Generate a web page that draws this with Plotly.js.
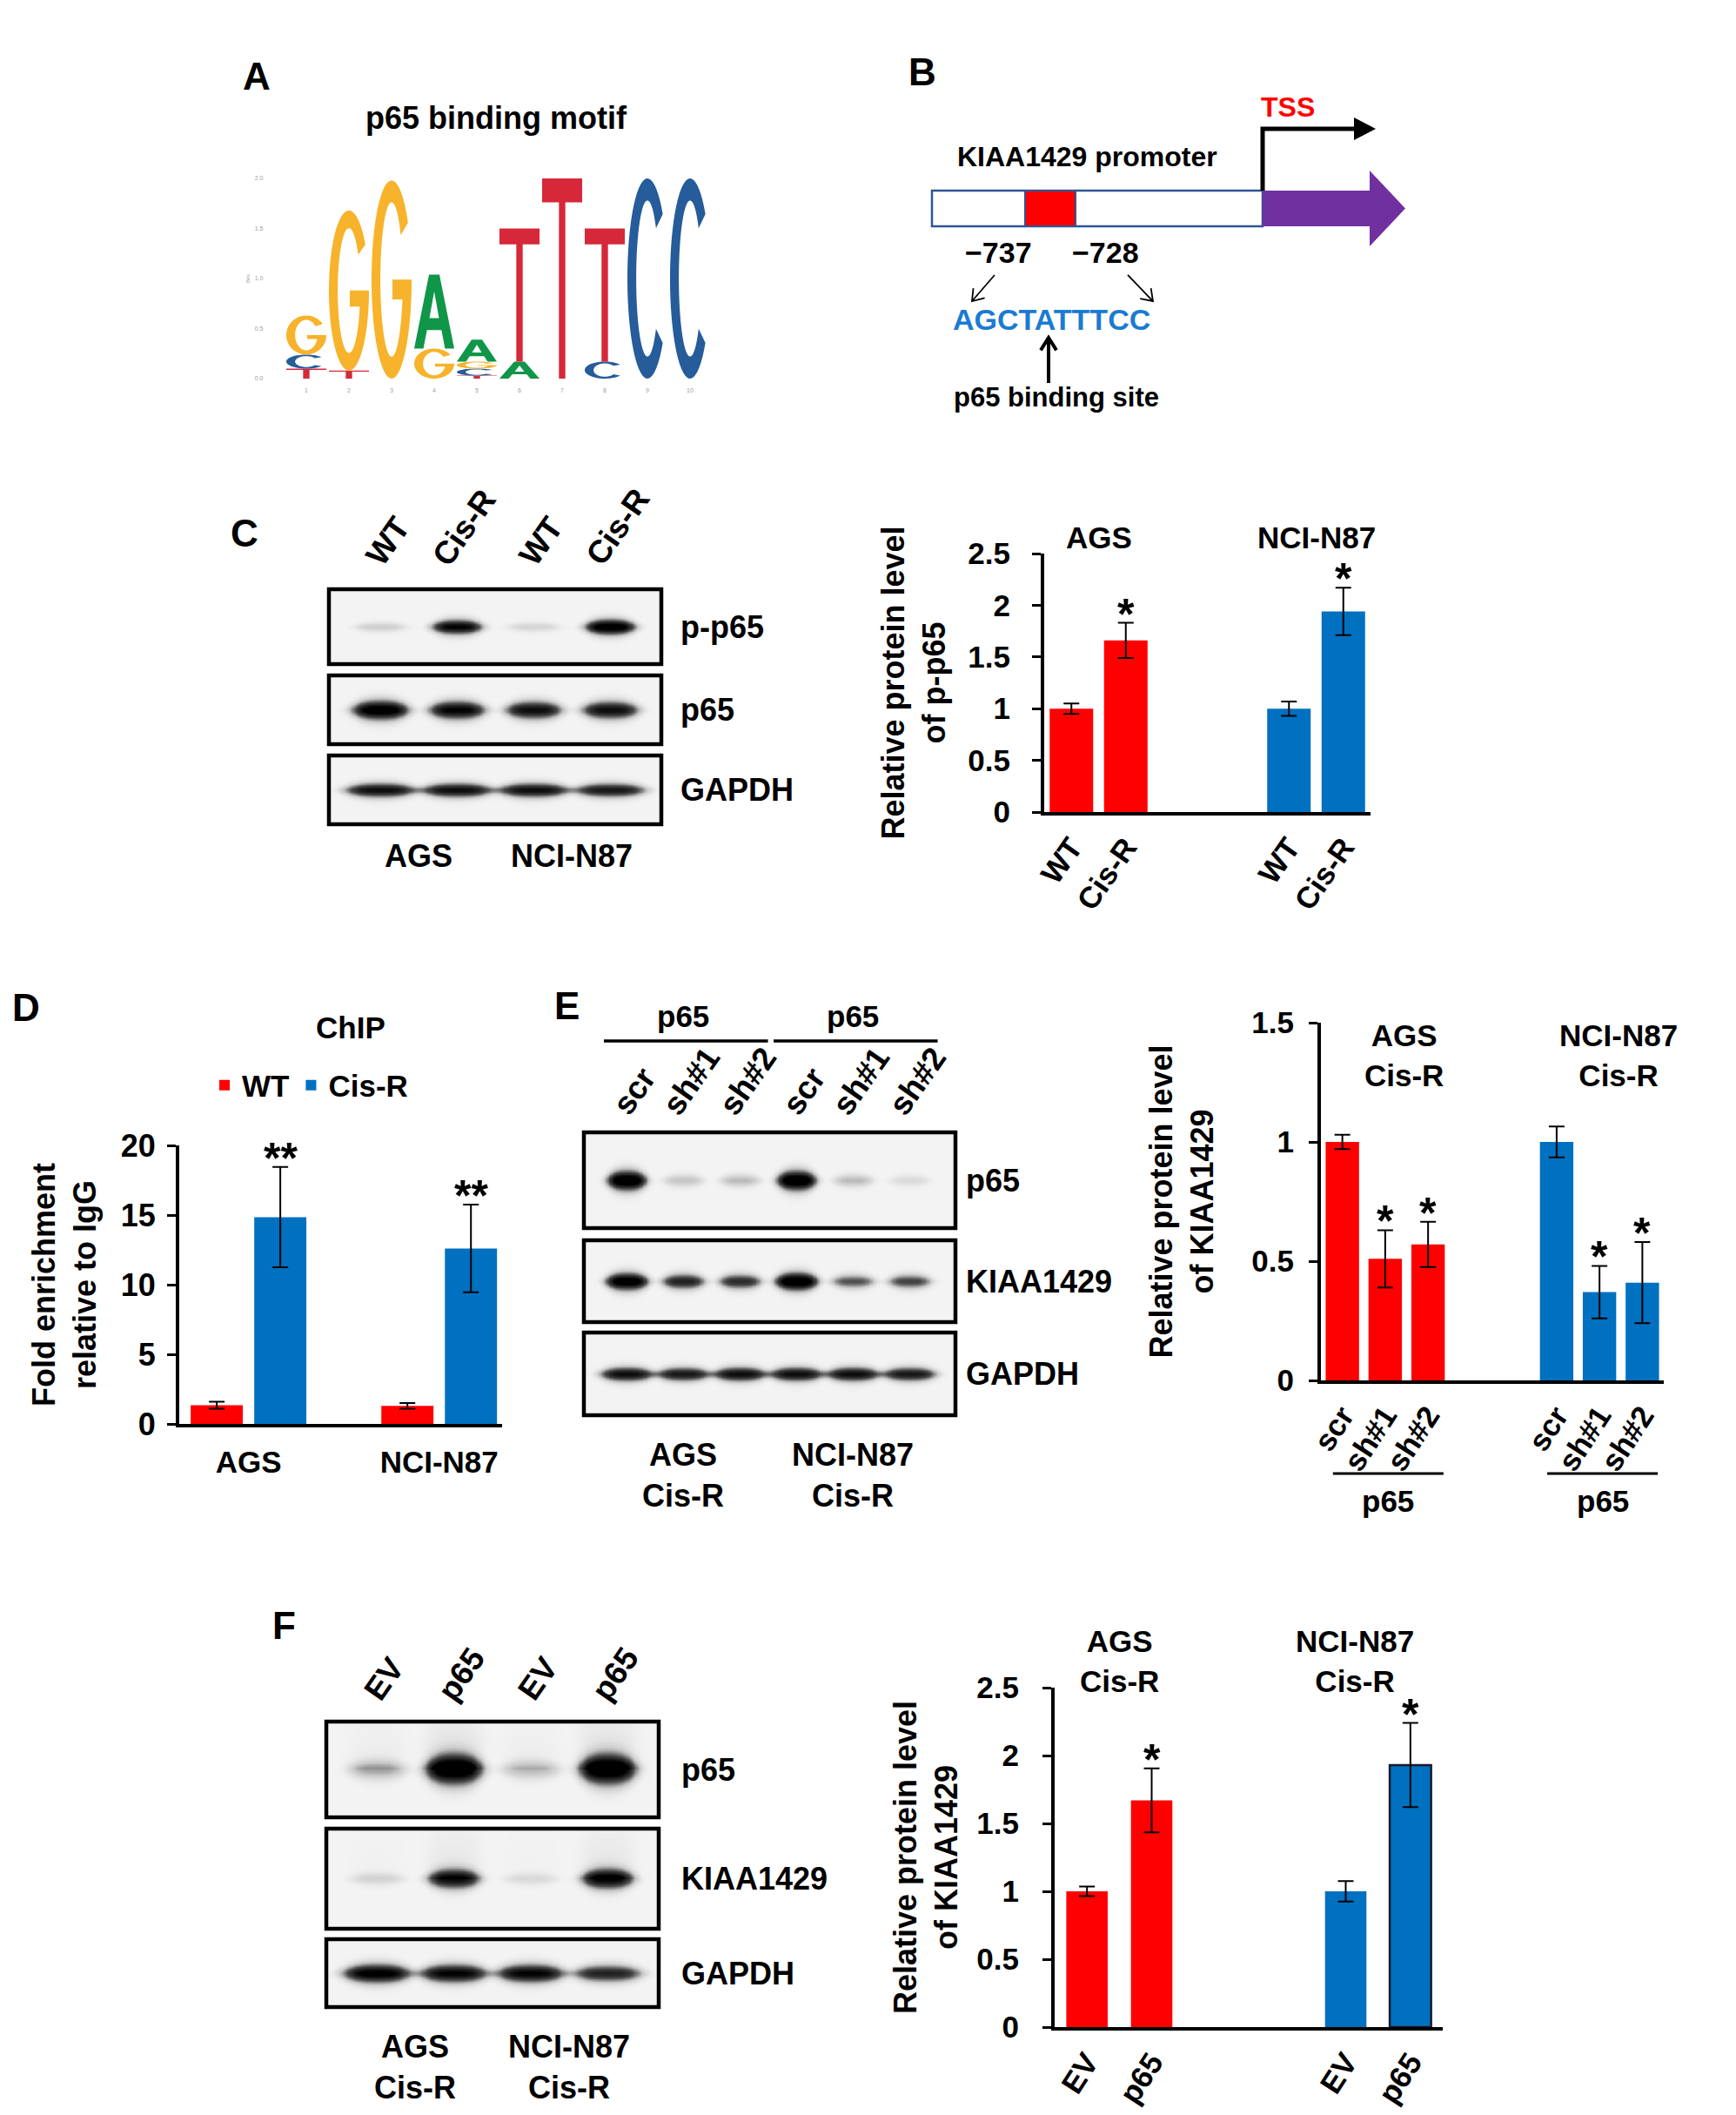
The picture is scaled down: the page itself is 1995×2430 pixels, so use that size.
<!DOCTYPE html>
<html><head><meta charset="utf-8">
<script src="https://cdn.plot.ly/plotly-3.0.1.min.js"></script>
<style>html,body{margin:0;padding:0;background:#fff}</style>
</head><body>
<div id="chart" style="width:1995px;height:2430px"></div>
<script>
// ================= DATA =================
// A: p65 binding motif (information content, bits) per position
const logoPos   = [1,2,3,4,5,6,7,8,9,10];
const logoBitsA = [0.00,0.00,0.00,0.74,0.22,0.17,0.00,0.00,0.00,0.00];
const logoBitsC = [0.14,0.00,0.00,0.00,0.07,0.00,0.00,0.17,2.00,2.00];
const logoBitsG = [0.39,1.60,1.98,0.30,0.07,0.00,0.00,0.00,0.00,0.00];
const logoBitsT = [0.10,0.08,0.00,0.00,0.03,1.33,2.00,1.33,0.00,0.00];

// C: relative protein level of p-p65
const cGroups     = ["AGS","NCI-N87"];
const cConditions = ["WT","Cis-R"];
const cMean = [[1.00,1.66],[1.00,1.94]];
const cErr  = [[0.05,0.17],[0.07,0.23]];
const cSig  = [["","*"],["","*"]];

// D: ChIP fold enrichment relative to IgG
const dGroups = ["AGS","NCI-N87"];
const dSeries = ["WT","Cis-R"];
const dWT     = [1.35,1.30];
const dWTErr  = [0.25,0.20];
const dCisR   = [14.85,12.60];
const dCisErr = [3.60,3.15];
const dSig    = ["**","**"];

// E: relative protein level of KIAA1429 after p65 knockdown
const eGroups     = ["AGS<br>Cis-R","NCI-N87<br>Cis-R"];
const eConditions = ["scr","sh#1","sh#2"];
const eMean = [[1.00,0.51,0.57],[1.00,0.37,0.41]];
const eErr  = [[0.03,0.12,0.095],[0.065,0.11,0.17]];
const eSig  = [["","*","*"],["","*","*"]];

// F: relative protein level of KIAA1429 after p65 overexpression
const fGroups     = ["AGS<br>Cis-R","NCI-N87<br>Cis-R"];
const fConditions = ["EV","p65"];
const fMean = [[1.00,1.67],[1.00,1.93]];
const fErr  = [[0.035,0.235],[0.075,0.31]];
const fSig  = [["","*"],["","*"]];

// Western blots: band darkness (0..1) per row x lane
const blotCLanes = ["WT","Cis-R","WT","Cis-R"];
const blotCRows  = ["p-p65","p65","GAPDH"];
const blotCBands = [[0.18,0.85,0.15,0.95],[0.95,0.85,0.80,0.80],[0.80,0.80,0.80,0.75]];
const blotCCells = ["AGS","NCI-N87"];

const blotELanes = ["scr","sh#1","sh#2","scr","sh#1","sh#2"];
const blotERows  = ["p65","KIAA1429","GAPDH"];
const blotEBands = [[1.00,0.22,0.25,1.00,0.25,0.12],[0.95,0.70,0.65,1.00,0.50,0.55],[0.80,0.75,0.80,0.80,0.80,0.75]];
const blotECells = ["AGS<br>Cis-R","NCI-N87<br>Cis-R"];
const blotETop   = ["p65","p65"];

const blotFLanes = ["EV","p65","EV","p65"];
const blotFRows  = ["p65","KIAA1429","GAPDH"];
const blotFBands = [[0.30,1.00,0.25,1.00],[0.15,0.80,0.12,0.85],[0.90,0.85,0.85,0.70]];
const blotFCells = ["AGS<br>Cis-R","NCI-N87<br>Cis-R"];

// ================= STYLE / LAYOUT HELPERS =================
const W = 1995, H = 2430;
const PX = x => x / W, PY = y => 1 - y / H;
const FAM = 'Liberation Sans, Arial, Helvetica, sans-serif';
const fnt = (size, color = '#000', weight = 'bold') => ({family: FAM, size, color, weight});
const RED = '#ff0000', BLUE = '#0070c0';
const GROUP_COLORS = [RED, BLUE];
const STAR_SIZE = 50, STAR_SHIFT = -20;

const traces = [], shapes = [], ann = [];
const layout = {
  width: W, height: H, margin: {l:0, r:0, t:0, b:0},
  paper_bgcolor: '#fff', plot_bgcolor: 'rgba(0,0,0,0)',
  showlegend: true, shapes, annotations: ann,
  font: {family: FAM}
};
function text(t, x, y, size, opts = {}) {
  ann.push(Object.assign({text: t, x: PX(x), y: PY(y), xref: 'paper', yref: 'paper',
    showarrow: false, font: fnt(size, opts.color || '#000', opts.weight || 'bold'),
    xanchor: 'center', yanchor: 'middle'}, opts.extra || {}));
}

// ================= PANEL LETTERS =================
[["A",295,88],["B",1060,82],["C",281,613],["D",30,1157],["E",651,1155],["F",326,1867]]
  .forEach(([t,x,y]) => text(t, x, y, 44));

// ================= A: sequence logo =================
function ell(cx, cy, rx, ry, a0, a1, n) {
  const p = [];
  for (let i = 0; i <= n; i++) {
    const a = (a0 + (a1 - a0) * i / n) * Math.PI / 180;
    p.push([cx + rx * Math.cos(a), cy + ry * Math.sin(a)]);
  }
  return p;
}
const GLYPHS = {
  T: () => [[[0,1],[1,1],[1,0.88],[0.58,0.88],[0.58,0],[0.42,0],[0.42,0.88],[0,0.88]]],
  A: () => [[[0,0],[0.37,1],[0.63,1],[1,0],[0.77,0],[0.68,0.25],[0.32,0.25],[0.23,0]],
            [[0.38,0.41],[0.5,0.77],[0.62,0.41]]],
  C: () => [ell(0.5,0.5,0.5,0.5,40,320,48).concat(ell(0.5,0.5,0.28,0.39,320,40,48))],
  G: () => {
    const a = -Math.asin(0.1/0.39) * 180 / Math.PI + 360;
    return [ell(0.5,0.5,0.5,0.5,35,360,48)
      .concat([[0.52,0.5],[0.52,0.40]])
      .concat(ell(0.5,0.5,0.28,0.39,a,35,48))];
  }
};
const LETTER_COLORS = {A:'#109648', C:'#255c99', G:'#f7b32b', T:'#d62839'};
const logoBits = {A: logoBitsA, C: logoBitsC, G: logoBitsG, T: logoBitsT};
function glyphPath(L, pos, y0, h) {
  const wid = 0.94;
  return GLYPHS[L]().map(poly => 'M' + poly.map(([u,v]) =>
    `${(pos - wid/2 + wid*u).toFixed(4)},${(y0 + h*v).toFixed(4)}`).join('L') + 'Z').join(' ');
}
logoPos.forEach((p, i) => {
  const stack = ['A','C','G','T'].map(L => ({L, h: logoBits[L][i]}))
    .filter(o => o.h > 0).sort((a, b) => a.h - b.h);
  let y0 = 0;
  stack.forEach(o => {
    shapes.push({type:'path', xref:'x', yref:'y', path: glyphPath(o.L, p, y0, o.h),
      fillcolor: LETTER_COLORS[o.L], line:{width:0}, fillrule:'evenodd', layer:'above'});
    y0 += o.h;
  });
});
traces.push({type:'scatter', x: logoPos, y: logoPos.map(() => 0), mode:'none',
  xaxis:'x', yaxis:'y', showlegend:false, hoverinfo:'skip'});
layout.xaxis = {domain:[PX(327.5), PX(817.5)], anchor:'y', range:[0.5,10.5],
  tickvals: logoPos, tickfont: fnt(7,'#a0a0a0','normal'), ticks:'', showline:false,
  showgrid:false, zeroline:false, ticklabelstandoff: 8};
layout.yaxis = {domain:[PY(435), PY(205)], anchor:'x', range:[0,2],
  tickvals:[0,0.5,1,1.5,2], ticktext:['0.0','0.5','1.0','1.5','2.0'],
  tickfont: fnt(7,'#a0a0a0','normal'), ticks:'', showline:false, showgrid:false,
  zeroline:false, ticklabelstandoff: 24,
  title:{text:'Bits', font: fnt(6,'#a0a0a0','normal'), standoff: 4}};
text("p65 binding motif", 570, 135, 36);

// ================= B: promoter diagram =================
const pp = (pts) => 'M' + pts.map(([x,y]) => `${PX(x).toFixed(5)},${PY(y).toFixed(5)}`).join('L');
shapes.push({type:'rect', xref:'paper', yref:'paper', x0:PX(1071), x1:PX(1451), y0:PY(260), y1:PY(219),
  line:{color:'#2f5597', width:2.5}, fillcolor:'#fff'});
shapes.push({type:'rect', xref:'paper', yref:'paper', x0:PX(1178), x1:PX(1236), y0:PY(260), y1:PY(219),
  line:{color:'#2f5597', width:2}, fillcolor:'#ff0000'});
shapes.push({type:'path', xref:'paper', yref:'paper',
  path: pp([[1451,219],[1574,219],[1574,196],[1615,239.5],[1574,283],[1574,260],[1451,260]]) + 'Z',
  fillcolor:'#7030a0', line:{width:0}});
shapes.push({type:'path', xref:'paper', yref:'paper', path: pp([[1451,219],[1451,148],[1562,148]]),
  line:{color:'#000', width:5}});
shapes.push({type:'path', xref:'paper', yref:'paper', path: pp([[1556,135],[1581,148],[1556,161]]) + 'Z',
  fillcolor:'#000', line:{width:0}});
function arrow(x1, y1, x2, y2, len, angDeg, w) {
  const a = Math.atan2(y2 - y1, x2 - x1), ha = angDeg * Math.PI / 180;
  const h1 = [x2 + len*Math.cos(a + Math.PI - ha), y2 + len*Math.sin(a + Math.PI - ha)];
  const h2 = [x2 + len*Math.cos(a + Math.PI + ha), y2 + len*Math.sin(a + Math.PI + ha)];
  shapes.push({type:'path', xref:'paper', yref:'paper',
    path: pp([[x1,y1],[x2,y2]]) + ' ' + pp([h1,[x2,y2],h2]), line:{color:'#000', width:w}});
}
arrow(1143, 316, 1117, 346, 15, 35, 1.8);
arrow(1296, 316, 1325, 346, 15, 35, 1.8);
arrow(1205, 440, 1205, 388, 17, 32, 4);
text("TSS", 1480, 123, 32, {color:'#ff0000'});
text("KIAA1429 promoter", 1249, 180, 32);
text("\u2212737", 1147, 290, 34);
text("\u2212728", 1270, 290, 34);
text("AGCTATTTCC", 1208, 367, 34, {color:'#1b7bd2'});
text("p65 binding site", 1214, 457, 31);

// ================= BAR CHART BUILDER =================
function positions(nGroups, nPer, gap) {
  const out = [];
  for (let g = 0; g < nGroups; g++) { out.push([]); for (let i = 0; i < nPer; i++) out[g].push(g*(nPer+gap) + i); }
  return out;
}
const ERR = (arr) => ({type:'data', array: arr, visible:true, color:'#000', thickness:2, width:9});
function barAxes(n, spec) {
  layout['xaxis' + n] = {domain:[PX(spec.x0), PX(spec.x1)], anchor:'y' + n, range: spec.xr,
    tickvals: spec.tickvals, ticktext: spec.ticktext, tickangle: spec.tickangle,
    tickfont: fnt(spec.tf || 35), ticks:'', showline:true, linecolor:'#000', linewidth:4,
    showgrid:false, zeroline:false, ticklabelstandoff: spec.xstand || 2};
  layout['yaxis' + n] = {domain:[PY(spec.y1), PY(spec.y0)], anchor:'x' + n, range: spec.yr,
    dtick: spec.dtick, tick0: 0, tickfont: fnt(spec.tf || 35), ticks:'outside', ticklen:10,
    tickwidth:3, tickcolor:'#000', showline:true, linecolor:'#000', linewidth:4,
    showgrid:false, zeroline:false, ticklabelstandoff: spec.ystand,
    title:{text: spec.title, font: fnt(36), standoff: spec.tstand}};
}
function groupedBars(n, means, errs, sigs, pos, conds, barW, extraLine) {
  means.forEach((m, g) => {
    const t = {type:'bar', x: pos[g], y: m, error_y: ERR(errs[g]), width: barW,
      marker:{color: GROUP_COLORS[g]}, xaxis:'x' + n, yaxis:'y' + n, showlegend:false, hoverinfo:'skip'};
    if (extraLine && extraLine[g]) t.marker.line = extraLine[g];
    traces.push(t);
    m.forEach((v, i) => {
      if (sigs[g][i]) ann.push({text: sigs[g][i], x: pos[g][i], y: v + errs[g][i], xref:'x' + n, yref:'y' + n,
        showarrow:false, font: fnt(STAR_SIZE), yanchor:'bottom', yshift: STAR_SHIFT});
    });
  });
}

// ================= C: p-p65 bar chart =================
const cPos = positions(cGroups.length, cConditions.length, 2);
groupedBars(2, cMean, cErr, cSig, cPos, cConditions, 0.8);
barAxes(2, {x0:1200, x1:1575, y0:636, y1:933, xr:[-0.5,5.5], yr:[0,2.5], dtick:0.5,
  tickvals: cPos.flat(), ticktext: cPos.flat().map((_, k) => cConditions[k % cConditions.length]),
  tickangle:-55, ystand:18, tstand:16, title:'Relative protein level<br>of p-p65'});
cGroups.forEach((g, gi) => ann.push({text: g, x: (cPos[gi][0] + cPos[gi][cPos[gi].length-1]) / 2,
  y: PY(617), xref:'x2', yref:'paper', showarrow:false, font: fnt(35), yanchor:'middle'}));

// ================= D: ChIP bar chart =================
const dPos = positions(dGroups.length, dSeries.length, 1);
traces.push({type:'bar', name: dSeries[0], x: dPos.map(p => p[0]), y: dWT, error_y: ERR(dWTErr),
  width:0.82, marker:{color: RED}, xaxis:'x3', yaxis:'y3', hoverinfo:'skip', legend:'legend'});
traces.push({type:'bar', name: dSeries[1], x: dPos.map(p => p[1]), y: dCisR, error_y: ERR(dCisErr),
  width:0.82, marker:{color: BLUE}, xaxis:'x3', yaxis:'y3', hoverinfo:'skip', legend:'legend'});
dSig.forEach((s, g) => ann.push({text: s, x: dPos[g][1], y: dCisR[g] + dCisErr[g], xref:'x3', yref:'y3',
  showarrow:false, font: fnt(STAR_SIZE), yanchor:'bottom', yshift: STAR_SHIFT}));
barAxes(3, {x0:206, x1:577, y0:1316, y1:1636, xr:[-0.59,4.49], yr:[0,20], dtick:5,
  tickvals: dPos.map(p => (p[0] + p[1]) / 2), ticktext: dGroups, tickangle:0, tf:35, xstand:10,
  ystand:6, tstand:18, title:'Fold enrichment<br>relative to IgG'});
layout.yaxis3.tickfont = fnt(36);
layout.legend = {x: PX(238), y: PY(1247), xanchor:'left', yanchor:'middle', orientation:'h',
  font: fnt(35), bgcolor:'rgba(0,0,0,0)', itemwidth:30, traceorder:'normal', tracegroupgap:0};
text("ChIP", 403, 1180, 35);

// ================= E: knockdown bar chart =================
const ePos = positions(eGroups.length, eConditions.length, 2);
groupedBars(4, eMean, eErr, eSig, ePos, eConditions, 0.78);
barAxes(4, {x0:1518, x1:1912, y0:1175, y1:1586, xr:[-0.5,7.5], yr:[0,1.5], dtick:0.5,
  tickvals: ePos.flat(), ticktext: ePos.flat().map((_, k) => eConditions[k % eConditions.length]),
  tickangle:-57, ystand:10, tstand:34, title:'Relative protein level<br>of KIAA1429'});
eGroups.forEach((g, gi) => {
  const p = ePos[gi], mid = (p[0] + p[p.length-1]) / 2;
  ann.push({text: g, x: mid, y: PY(1213), xref:'x4', yref:'paper', showarrow:false, font: fnt(35),
    yanchor:'middle', xshift: 22});
  shapes.push({type:'line', xref:'x4', yref:'paper', x0: p[0] - 0.22, x1: p[p.length-1] + 0.36,
    y0: PY(1693), y1: PY(1693), line:{color:'#000', width:3}});
  ann.push({text:'p65', x: mid + 0.07, y: PY(1724), xref:'x4', yref:'paper', showarrow:false,
    font: fnt(35), yanchor:'middle'});
});

// ================= F: overexpression bar chart =================
const fPos = positions(fGroups.length, fConditions.length, 2);
groupedBars(5, fMean, fErr, fSig, fPos, fConditions, 0.64,
  [null, {color:['rgba(0,0,0,0)','#1a1a2a'], width:[0,2.5]}]);
barAxes(5, {x0:1212, x1:1658, y0:1939, y1:2329, xr:[-0.5,5.5], yr:[0,2.5], dtick:0.5,
  tickvals: fPos.flat(), ticktext: fPos.flat().map((_, k) => fConditions[k % fConditions.length]),
  tickangle:-57, ystand:20, tstand:12, title:'Relative protein level<br>of KIAA1429'});
fGroups.forEach((g, gi) => ann.push({text: g, x: (fPos[gi][0] + fPos[gi][fPos[gi].length-1]) / 2,
  y: PY(1908), xref:'x5', yref:'paper', showarrow:false, font: fnt(35), yanchor:'middle',
  xshift: gi === 1 ? -27 : 0}));

// ================= WESTERN BLOTS =================
const BLOTS = [
  {ax:6, lanes: blotCLanes, rows: blotCRows, bands: blotCBands, cells: blotCCells,
   x0:378, x1:760, xr:[-0.67,3.67], strips:[[677,763],[776,855],[868,947]],
   bandStyle:[{hw:0.33,sig:8},{hw:0.37,sig:10},{hw:0.46,sig:8}],
   labelX:780, laneBottom:660, cellY:983, font:36},
  {ax:7, lanes: blotELanes, rows: blotERows, bands: blotEBands, cells: blotECells,
   x0:671, x1:1098, xr:[-0.754,5.815], strips:[[1301,1411],[1425,1519],[1531,1626]],
   bandStyle:[{hw:0.35,sig:10},{hw:0.38,sig:9},{hw:0.47,sig:8}],
   labelX:1108, laneBottom:1291, cellY:1695, font:36},
  {ax:8, lanes: blotFLanes, rows: blotFRows, bands: blotFBands, cells: blotFCells,
   x0:375, x1:757, xr:[-0.657,3.67], strips:[[1978,2088],[2101,2216],[2228,2306]],
   bandStyle:[{hw:0.37,sig:15,smear:0.16},{hw:0.34,sig:11,smear:0.12},{hw:0.44,sig:10}],
   labelX:781, laneBottom:1964, cellY:2375, font:36}
];
const BLOT_SCALE = [[0,'#f3f3f3'],[0.25,'#c8c8c8'],[0.6,'#4a4a4a'],[1,'#000000']];
BLOTS.forEach(b => {
  const n = b.ax, xs = [];
  for (let x = b.xr[0]; x <= b.xr[1] + 1e-9; x += 0.025) xs.push(+x.toFixed(4));
  b.strips.forEach(([yt, yb], si) => {
    const yc = (yt + yb) / 2, st = b.bandStyle[si], ys = [];
    for (let y = yt + 3; y <= yb - 3; y += 1.5) ys.push(y);
    const z = ys.map(y => xs.map(x => {
      let v = 0;
      b.bands[si].forEach((I, li) => {
        const dx = (x - li) / st.hw;
        const fx = Math.exp(-Math.pow(Math.abs(dx), 4));
        const s = st.sig * (0.55 + 0.6 * I) * Math.max(0.35, 1 - 0.35 * dx * dx);
        const dy = (y - yc) / s;
        v += I * fx * Math.exp(-dy * dy);
        if (st.smear && y < yc) v += I * st.smear * fx * Math.exp(-(yc - y) / 40);
      });
      return Math.min(v, 1);
    }));
    traces.push({type:'heatmap', x: xs, y: ys, z, xaxis:'x' + n, yaxis:'y' + n, zmin:0, zmax:0.85,
      zsmooth:'best', colorscale: BLOT_SCALE, showscale:false, hoverinfo:'skip'});
    shapes.push({type:'rect', xref:'paper', yref:'paper', x0: PX(b.x0), x1: PX(b.x1),
      y0: PY(yb), y1: PY(yt), line:{color:'#000', width:4.5}, layer:'above'});
    text(b.rows[si], b.labelX, yc, b.font, {extra:{xanchor:'left'}});
  });
  const yTop = b.strips[0][0], yBot = b.strips[b.strips.length-1][1];
  layout['xaxis' + n] = {domain:[PX(b.x0), PX(b.x1)], anchor:'y' + n, range: b.xr, visible:false};
  layout['yaxis' + n] = {domain:[PY(yBot), PY(yTop)], anchor:'x' + n, range:[yBot, yTop], visible:false};
  b.lanes.forEach((l, li) => ann.push({text: l, x: li, y: PY(b.laneBottom), xref:'x' + n, yref:'paper',
    showarrow:false, font: fnt(37), textangle:-55, xanchor:'center', yanchor:'bottom', xshift:9}));
  const per = b.lanes.length / b.cells.length;
  b.cells.forEach((c, ci) => ann.push({text: c, x: ci * per + (per - 1) / 2, y: PY(b.cellY),
    xref:'x' + n, yref:'paper', showarrow:false, font: fnt(36), yanchor:'middle'}));
});
// E blot: shRNA group headers
blotETop.forEach((t, gi) => {
  const a = gi * 3, z = gi * 3 + 2;
  ann.push({text: t, x: (a + z) / 2, y: PY(1167), xref:'x7', yref:'paper', showarrow:false,
    font: fnt(35), yanchor:'middle'});
  shapes.push({type:'line', xref:'x7', yref:'paper', x0: a - 0.4, x1: z + 0.5, y0: PY(1196), y1: PY(1196),
    line:{color:'#000', width:3.5}});
});

Plotly.newPlot('chart', traces, layout, {displayModeBar:false, responsive:false});
</script>
</body></html>
